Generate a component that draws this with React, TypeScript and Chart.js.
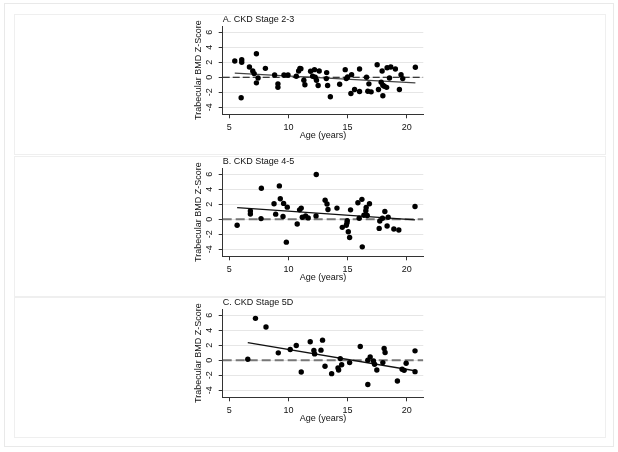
import React, { useEffect, useRef } from 'react';
import { Chart, registerables } from 'chart.js';

Chart.register(...registerables);

// ---------- data ----------
const X_MIN = 4.44;
const X_MAX = 21.4;
const Y_MIN = -4.95;
const Y_MAX = 6.85;
const xTicks = [5, 10, 15, 20];
const yTicks = [-4, -2, 0, 2, 4, 6];
const panelTitles = ['A. CKD Stage 2-3', 'B. CKD Stage 4-5', 'C. CKD Stage 5D'];
const xTitle = 'Age (years)';
const yTitle = 'Trabecular BMD Z-Score';

const ageA = [5.46, 6.05, 6.05, 6.0, 6.7, 6.98, 7.1, 7.29, 7.29, 7.43, 8.05, 8.83, 9.11, 9.11, 9.62, 9.96,
  10.66, 10.86, 10.97, 11.05, 11.3, 11.39, 11.87, 12.2, 12.04, 12.26, 12.37, 12.51, 12.6,
  13.23, 13.2, 13.31, 13.54, 14.33, 14.8, 14.89, 15.0, 15.34, 15.28, 15.59, 16.01, 16.01, 16.6, 16.71,
  16.99, 16.8, 17.5, 17.61, 17.92, 17.84, 17.98, 17.98, 18.1, 18.3, 18.34, 18.65, 18.54, 19.04, 19.38,
  19.52, 19.66, 20.73];
const zA = [2.17, 2.35, 2.0, -2.74, 1.37, 0.84, 0.49, 3.14, -0.75, -0.09, 1.19, 0.31, -0.88, -1.33, 0.31, 0.31,
  0.13, 0.84, 1.19, 1.15, -0.4, -1.0, 0.8, 1.02, 0.13, 0.0, -0.4, -1.1, 0.84,
  0.62, -0.18, -1.1, -2.6, -0.93, 1.02, -0.18, 0.04, 0.35, -2.17, -1.64, 1.1, -1.9, 0.0, -1.86,
  -1.95, -0.88, 1.68, -1.64, 0.84, -0.66, -1.06, -2.48, -1.2, -1.35, 1.28, 1.37, -0.09, 1.1, -1.64,
  0.35, -0.18, 1.33];

const ageB = [5.66, 6.78, 6.78, 7.71, 7.68, 8.78, 8.92, 9.23, 9.31, 9.59, 9.54, 9.9, 9.82, 10.74, 10.94, 11.08,
  11.17, 11.45, 11.67, 12.35, 12.33, 13.1, 13.26, 13.34, 14.1, 14.55, 14.89, 14.97, 14.95, 15.06, 15.17,
  15.25, 15.87, 16.21, 15.98, 16.24, 16.38, 16.57, 16.54, 16.66, 16.85, 17.67, 17.72, 17.95, 18.15,
  18.34, 18.43, 18.91, 19.33, 20.7];
const zB = [-0.81, 1.1, 0.7, 4.14, 0.09, 2.07, 0.68, 4.46, 2.75, 2.12, 0.36, 1.62, -3.06, -0.63, 1.26, 1.49,
  0.27, 0.45, 0.18, 5.99, 0.45, 2.55, 2.03, 1.31, 1.49, -1.08, -0.81, -0.18, -0.45, -1.67, -2.43,
  1.26, 2.21, 2.66, 0.14, -3.69, 0.54, 1.58, 1.13, 0.5, 2.07, -1.22, -0.23, 0.14, 1.04,
  -0.9, 0.27, -1.31, -1.44, 1.71];

const ageC = [6.56, 7.21, 8.1, 9.14, 10.15, 10.66, 11.08, 11.84, 12.15, 12.21, 12.88, 12.75, 13.09, 13.65,
  14.19, 14.24, 14.5, 14.38, 15.17, 16.07, 16.71, 16.71, 16.91, 17.19, 17.28, 17.47, 17.98, 18.09,
  18.17, 19.21, 19.61, 19.78, 19.95, 20.7, 20.7];
const zC = [0.13, 5.6, 4.44, 0.99, 1.43, 1.97, -1.57, 2.47, 1.3, 0.85, 2.69, 1.35, -0.81, -1.79,
  -1.03, -1.3, -0.6, 0.22, -0.31, 1.84, -3.23, 0.0, 0.45, -0.09, -0.54, -1.3, -0.31, 1.57,
  1.03, -2.78, -1.21, -1.35, -0.4, 1.26, -1.52];

// fitted regression lines (endpoints)
const fitAgeA = [5.46, 20.73];
const fitZA = [0.55, -0.75];
const fitAgeB = [5.66, 20.7];
const fitZB = [1.55, -0.08];
const fitAgeC = [6.56, 20.7];
const fitZC = [2.35, -1.4];

// ---------- style ----------
const FONT = "Arial, 'Liberation Sans', sans-serif";
const TEXT = '#111111';
const AXIS = '#333333';
const GRID = '#e6e6e6';
const W = 592;
const H = 141;

const panelTextPlugin = {
  id: 'panelText',
  afterDraw(chart: any, _args: any, opts: any) {
    const { ctx, chartArea, scales } = chart;
    ctx.save();
    ctx.fillStyle = TEXT;
    ctx.font = `9px ${FONT}`;
    ctx.textAlign = 'left';
    ctx.textBaseline = 'middle';
    ctx.fillText(opts.title, chartArea.left, chartArea.top - 6.5);
    const ys = scales.y;
    yTicks.forEach((v) => {
      const py = ys.getPixelForValue(v);
      ctx.save();
      ctx.translate(chartArea.left - 12.7, py);
      ctx.rotate(-Math.PI / 2);
      ctx.textAlign = 'center';
      ctx.textBaseline = 'middle';
      ctx.fillText(String(v), 0, 0);
      ctx.restore();
    });
    ctx.restore();
  },
};

type PanelProps = {
  title: string;
  ages: number[];
  zs: number[];
  fitAges: number[];
  fitZs: number[];
  fitColor: string;
  zeroColor: string;
  zeroWidth: number;
  zeroDash: number[];
  top: number;
};

function Panel(p: PanelProps) {
  const ref = useRef<HTMLCanvasElement | null>(null);
  useEffect(() => {
    if (!ref.current) return;
    const points = p.ages.map((a, i) => ({ x: a, y: p.zs[i] }));
    const fit = p.fitAges.map((a, i) => ({ x: a, y: p.fitZs[i] }));
    const zero = [{ x: X_MIN, y: 0 }, { x: X_MAX, y: 0 }];
    const font = { family: FONT, size: 9 };
    const chart = new Chart(ref.current, {
      type: 'scatter',
      data: {
        datasets: [
          {
            type: 'scatter',
            data: points,
            pointRadius: 2.7,
            pointBackgroundColor: '#000',
            pointBorderWidth: 0,
            order: 0,
          } as any,
          {
            type: 'line',
            data: fit,
            borderColor: p.fitColor,
            borderWidth: 1.3,
            pointRadius: 0,
            fill: false,
            order: 1,
          } as any,
          {
            type: 'line',
            data: zero,
            borderColor: p.zeroColor,
            borderWidth: p.zeroWidth,
            borderDash: p.zeroDash,
            pointRadius: 0,
            fill: false,
            order: 2,
          } as any,
        ],
      },
      options: {
        responsive: false,
        animation: false,
        devicePixelRatio: 1,
        layout: { padding: { left: 179.6, right: 182.7, top: 12, bottom: 13.7 } },
        plugins: {
          legend: { display: false },
          tooltip: { enabled: false },
          title: { display: false },
          panelText: { title: p.title },
        } as any,
        scales: {
          x: {
            type: 'linear',
            min: X_MIN,
            max: X_MAX,
            afterBuildTicks: (s: any) => {
              s.ticks = xTicks.map((v) => ({ value: v }));
            },
            afterFit: (s: any) => {
              s.height = 27;
            },
            border: { display: true, color: AXIS, width: 1 },
            grid: { drawOnChartArea: false, drawTicks: true, tickLength: 4, tickColor: AXIS, color: AXIS },
            ticks: { autoSkip: false, maxRotation: 0, minRotation: 0, padding: 4, color: TEXT, font },
            title: { display: true, text: xTitle, color: TEXT, font, padding: 0 },
          },
          y: {
            type: 'linear',
            min: Y_MIN,
            max: Y_MAX,
            afterBuildTicks: (s: any) => {
              s.ticks = yTicks.map((v) => ({ value: v }));
            },
            afterFit: (s: any) => {
              s.width = 29.1;
            },
            border: { display: true, color: AXIS, width: 1 },
            grid: { color: GRID, lineWidth: 1, drawTicks: true, tickLength: 4, tickColor: AXIS },
            ticks: { display: false },
            title: { display: true, text: yTitle, color: TEXT, font, padding: 0 },
          },
        },
      } as any,
      plugins: [panelTextPlugin],
    });
    return () => chart.destroy();
  }, []);
  return (
    <>
      <div
        style={{
          position: 'absolute',
          left: 14,
          top: p.top,
          width: W,
          height: H,
          boxSizing: 'border-box',
          border: '1px solid #efefef',
        }}
      />
      <canvas
        ref={ref}
        width={W}
        height={H}
        style={{ position: 'absolute', left: 14, top: p.top, width: W, height: H }}
      />
    </>
  );
}

export default function App() {
  return (
    <div style={{ position: 'absolute', left: 0, top: 0, width: 618, height: 452, background: '#fff' }}>
      <div
        style={{
          position: 'absolute',
          left: 4,
          top: 3,
          width: 610,
          height: 444,
          boxSizing: 'border-box',
          border: '1px solid #e9e9e9',
        }}
      />
      <Panel title={panelTitles[0]} ages={ageA} zs={zA} fitAges={fitAgeA} fitZs={fitZA}
        fitColor="#444444" zeroColor="#000000" zeroWidth={1.2} zeroDash={[7, 3]} top={14} />
      <Panel title={panelTitles[1]} ages={ageB} zs={zB} fitAges={fitAgeB} fitZs={fitZB}
        fitColor="#111111" zeroColor="#777777" zeroWidth={1.8} zeroDash={[9, 4]} top={156} />
      <Panel title={panelTitles[2]} ages={ageC} zs={zC} fitAges={fitAgeC} fitZs={fitZC}
        fitColor="#111111" zeroColor="#777777" zeroWidth={1.8} zeroDash={[9, 4]} top={297} />
    </div>
  );
}
